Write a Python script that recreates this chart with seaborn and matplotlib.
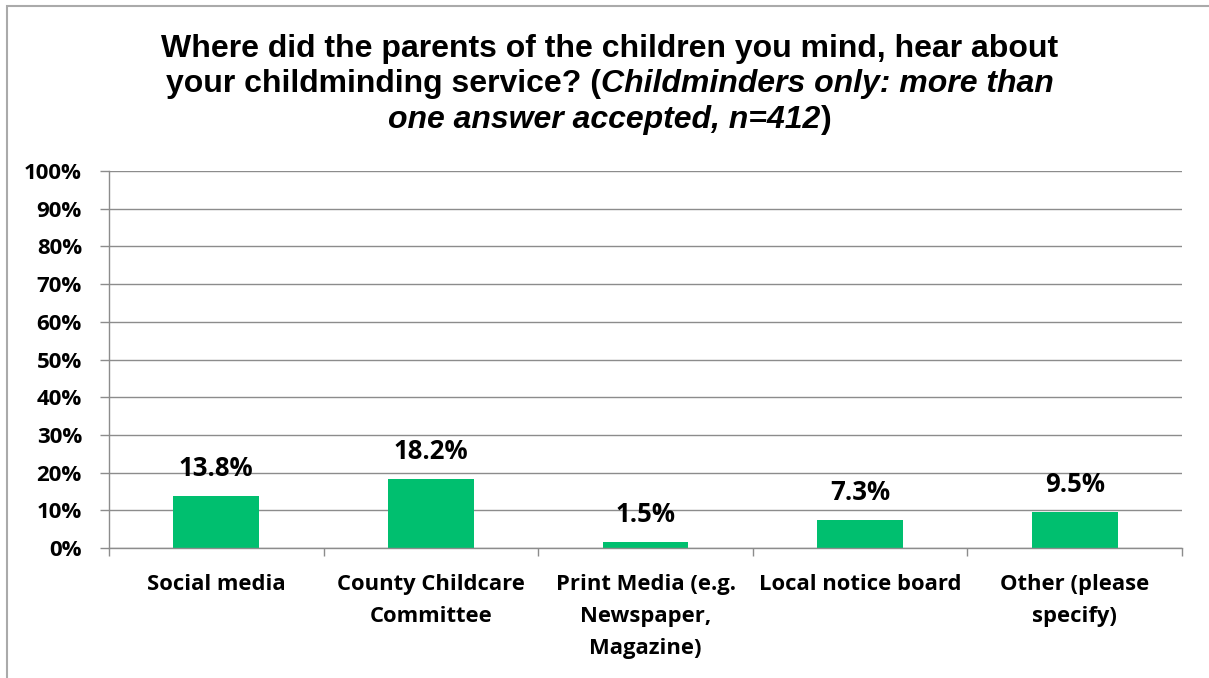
import matplotlib
matplotlib.use("Agg")
import matplotlib.pyplot as plt
import seaborn as sns
import pandas as pd
from matplotlib.patches import Rectangle
from matplotlib.ticker import FixedLocator, PercentFormatter

categories = [
    "Social media",
    "County Childcare\nCommittee",
    "Print Media (e.g.\nNewspaper,\nMagazine)",
    "Local notice board",
    "Other (please\nspecify)",
]
values = [13.8, 18.2, 1.5, 7.3, 9.5]
y_ticks = [0, 10, 20, 30, 40, 50, 60, 70, 80, 90, 100]

sns.set_theme(style="white")
plt.rcParams["font.family"] = ["Open Sans", "DejaVu Sans"]
plt.rcParams["text.color"] = "black"

W, H = 1209, 678
fig = plt.figure(figsize=(W / 100, H / 100), dpi=100)
fig.patch.set_facecolor("white")

# plot area in pixel coordinates
left, right, top, bottom = 109, 1182, 171, 548
ax = fig.add_axes([left / W, 1 - bottom / H, (right - left) / W, (bottom - top) / H])

df = pd.DataFrame({"source": categories, "pct": values})
sns.barplot(data=df, x="source", y="pct", color="#00BF6F", width=0.4,
            saturation=1, ax=ax, edgecolor="none")

ax.set_ylim(0, 100)
ax.set_xlim(-0.5, len(categories) - 0.5)
ax.yaxis.set_major_locator(FixedLocator(y_ticks))
ax.yaxis.set_major_formatter(PercentFormatter(decimals=0))
ax.grid(axis="y", color="#8c8c8c", linewidth=1.0)
ax.set_axisbelow(True)
ax.set_xlabel("")
ax.set_ylabel("")

for side in ["top", "right"]:
    ax.spines[side].set_visible(False)
for side in ["left", "bottom"]:
    ax.spines[side].set_color("#8c8c8c")
    ax.spines[side].set_linewidth(1.0)

ax.tick_params(axis="y", length=6.5, width=1.0, color="#8c8c8c", pad=13,
               labelsize=16, labelcolor="black", left=True)
for lbl in ax.get_yticklabels():
    lbl.set_fontweight("bold")

# category labels centred under each bar, ticks on the category boundaries
ax.set_xticks(range(len(categories)))
ax.set_xticklabels(categories, fontsize=15.8, fontweight="bold", color="black",
                   linespacing=1.68, va="top")
ax.tick_params(axis="x", length=0, pad=19)
ax.set_xticks([i - 0.5 for i in range(len(categories) + 1)], minor=True)
ax.tick_params(axis="x", which="minor", length=6, width=1.0, color="#8c8c8c",
               bottom=True)

# value labels above the bars
for i, v in enumerate(values):
    ax.annotate(f"{v:.1f}%", xy=(i, v), xytext=(0, 14.5), textcoords="offset points",
                ha="center", va="baseline", fontsize=18.5, fontweight="bold",
                color="black")

# chart title with an italic note
title_font = ["Liberation Sans", "DejaVu Sans"]
tsize = 23
baselines = [57, 92, 128]
cx = 610

fig.text(cx / W, 1 - baselines[0] / H,
         "Where did the parents of the children you mind, hear about",
         ha="center", va="baseline", fontsize=tsize, fontweight="bold",
         family=title_font)

renderer = fig.canvas.get_renderer()


def line_parts(parts, y):
    texts = []
    for s, style in parts:
        t = fig.text(0, 1 - y / H, s, ha="left", va="baseline", fontsize=tsize,
                     fontweight="bold", fontstyle=style, family=title_font)
        texts.append(t)
    widths = [t.get_window_extent(renderer).width for t in texts]
    x = cx - sum(widths) / 2
    for t, w in zip(texts, widths):
        t.set_x(x / W)
        x += w


line_parts([("your childminding service? (", "normal"),
            ("Childminders only: more than", "italic")], baselines[1])
line_parts([("one answer accepted, n=412", "italic"),
            (")", "normal")], baselines[2])

# outer chart border
fig.patches.append(Rectangle((6.5 / W, -0.05), 1.1, 1 - 6 / H + 0.05,
                             transform=fig.transFigure, fill=False,
                             edgecolor="#aaaaaa", linewidth=1.5))

fig.savefig("out.png", dpi=100, facecolor="white")
